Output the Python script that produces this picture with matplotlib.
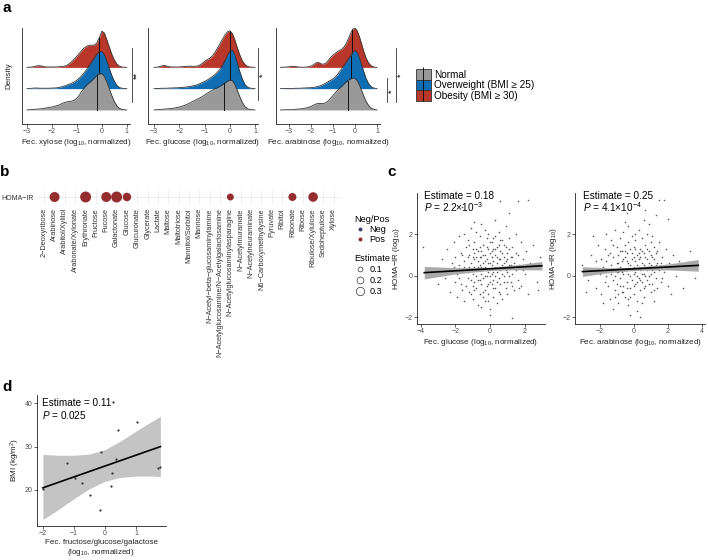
import numpy as np
import matplotlib.pyplot as plt
from matplotlib.patches import Patch
from matplotlib.lines import Line2D
from matplotlib.legend_handler import HandlerTuple

plt.rcParams['font.family'] = ['Liberation Sans', 'DejaVu Sans']
plt.rcParams['mathtext.fontset'] = 'custom'
plt.rcParams['mathtext.rm'] = 'Liberation Sans'
plt.rcParams['mathtext.it'] = 'Liberation Sans:italic'
plt.rcParams['mathtext.bf'] = 'Liberation Sans:bold'

# ---------------- data ----------------
groups = ['Normal', 'Overweight (BMI ≥ 25)', 'Obesity (BMI ≥ 30)']
group_colors = ['#999999', '#0F6DB3', '#B8362A']

# density grids (log10 normalized) and ridge heights
grid_a = np.linspace(-3.0, 1.0, 41)
grid_b = np.linspace(-3.4, 1.0, 45)

xyl_normal = [0.00, 0.01, 0.02, 0.03, 0.04, 0.05, 0.06, 0.08, 0.10, 0.12, 0.14, 0.17, 0.20, 0.24,
              0.30, 0.35, 0.38, 0.40, 0.42, 0.46, 0.55, 0.70, 0.88, 1.05, 1.18, 1.28, 1.38, 1.50,
              1.62, 1.70, 1.70, 1.58, 1.32, 1.00, 0.68, 0.40, 0.20, 0.08, 0.03, 0.01, 0.00]
xyl_over = [0.00, 0.01, 0.02, 0.03, 0.03, 0.02, 0.02, 0.02, 0.02, 0.02, 0.03, 0.03, 0.04, 0.06,
            0.09, 0.13, 0.17, 0.21, 0.26, 0.32, 0.40, 0.50, 0.62, 0.76, 0.92, 1.10, 1.28, 1.45,
            1.62, 1.74, 1.75, 1.60, 1.30, 0.95, 0.62, 0.35, 0.16, 0.06, 0.02, 0.01, 0.00]
xyl_obese = [0.00, 0.01, 0.02, 0.04, 0.07, 0.08, 0.06, 0.03, 0.02, 0.02, 0.02, 0.02, 0.02, 0.03,
             0.04, 0.06, 0.10, 0.18, 0.28, 0.40, 0.52, 0.66, 0.80, 0.92, 1.00, 1.04, 1.04, 1.05,
             1.15, 1.40, 1.70, 1.62, 1.30, 0.95, 0.62, 0.35, 0.16, 0.06, 0.02, 0.01, 0.00]

glc_normal = [0.00, 0.01, 0.02, 0.03, 0.04, 0.05, 0.06, 0.07, 0.09, 0.11, 0.14, 0.17, 0.21, 0.26,
              0.32, 0.38, 0.44, 0.50, 0.56, 0.62, 0.70, 0.78, 0.85, 0.92, 0.98, 1.04, 1.10, 1.18,
              1.26, 1.34, 1.40, 1.38, 1.20, 0.92, 0.62, 0.35, 0.16, 0.06, 0.02, 0.01, 0.00]
glc_over = [0.00, 0.01, 0.01, 0.02, 0.02, 0.02, 0.03, 0.03, 0.04, 0.04, 0.05, 0.06, 0.07, 0.08,
            0.10, 0.12, 0.15, 0.18, 0.23, 0.28, 0.34, 0.40, 0.48, 0.56, 0.65, 0.76, 0.90, 1.08,
            1.30, 1.55, 1.76, 1.82, 1.60, 1.20, 0.80, 0.45, 0.20, 0.08, 0.03, 0.01, 0.00]
glc_obese = [0.00, 0.01, 0.03, 0.07, 0.10, 0.06, 0.03, 0.02, 0.02, 0.02, 0.02, 0.03, 0.04, 0.05,
             0.06, 0.05, 0.05, 0.06, 0.10, 0.18, 0.28, 0.36, 0.42, 0.52, 0.68, 0.88, 1.08, 1.30,
             1.50, 1.66, 1.72, 1.60, 1.30, 0.92, 0.58, 0.30, 0.14, 0.05, 0.02, 0.01, 0.00]

ara_normal = [0.00, 0.00, 0.01, 0.01, 0.01, 0.01, 0.02, 0.03, 0.04, 0.05, 0.06, 0.08, 0.10, 0.13,
              0.17, 0.22, 0.27, 0.30, 0.31, 0.30, 0.31, 0.36, 0.45, 0.56, 0.68, 0.80, 0.92, 1.02,
              1.12, 1.22, 1.32, 1.40, 1.46, 1.50, 1.48, 1.38, 1.18, 0.92, 0.65, 0.42, 0.24, 0.12,
              0.05, 0.02, 0.00]
ara_over = [0.00, 0.00, 0.01, 0.01, 0.01, 0.01, 0.01, 0.02, 0.02, 0.02, 0.03, 0.03, 0.04, 0.04,
            0.05, 0.06, 0.08, 0.10, 0.13, 0.17, 0.22, 0.28, 0.34, 0.40, 0.46, 0.55, 0.66, 0.80,
            0.95, 1.10, 1.25, 1.40, 1.55, 1.72, 1.80, 1.70, 1.45, 1.12, 0.80, 0.50, 0.28, 0.13,
            0.05, 0.02, 0.00]
ara_obese = [0.00, 0.01, 0.01, 0.02, 0.03, 0.05, 0.05, 0.04, 0.02, 0.01, 0.01, 0.01, 0.02, 0.03,
             0.06, 0.12, 0.20, 0.24, 0.20, 0.15, 0.16, 0.22, 0.35, 0.48, 0.58, 0.66, 0.74, 0.80,
             0.86, 0.96, 1.12, 1.35, 1.60, 1.80, 1.85, 1.72, 1.45, 1.10, 0.75, 0.45, 0.24, 0.11,
             0.04, 0.01, 0.00]

xyl_medians = [-0.18, -0.10, -0.10]
glc_medians = [-0.22, 0.00, 0.00]
ara_medians = [-0.33, -0.20, -0.12]

# panel b
metabolites = ['2−Deoxyribose', 'Arabinose', 'Arabitol/Xylitol', 'Arabonate/Xylonate', 'Erythronate',
               'Fructose', 'Fucose', 'Galactonate', 'Glucose', 'Glucuronate', 'Glycerate', 'Lactate',
               'Maltose', 'Maltotriose', 'Mannitol/Sorbitol', 'Mannose',
               'N−Acetyl−beta−glucosaminylamine', 'N−Acetylglucosamine/N−Acetylgalactosamine',
               'N−Acetylglucosaminylasparagine', 'N−Acetylmuramate', 'N−Acetylneuraminate',
               'N6−Carboxymethyllysine', 'Pyruvate', 'Ribitol', 'Ribonate', 'Ribose',
               'Ribulose/Xylulose', 'Sedoheptulose', 'Xylose']
sig_metabolites = ['Arabinose', 'Erythronate', 'Fucose', 'Galactonate', 'Glucose',
                   'N−Acetylglucosaminylasparagine', 'Ribonate', 'Ribulose/Xylulose']
sig_estimates = [0.25, 0.30, 0.25, 0.30, 0.18, 0.12, 0.16, 0.23]

# panel c scatter points (fecal sugar, HOMA-IR)
glc_pts = [(-3.9, 1.4), (-3.3, 0.3), (-3.0, -0.4), (-2.8, 0.8), (-2.6, -0.1), (-2.5, 1.3), (-2.4, 0.2),
           (-2.3, -0.8), (-2.2, 0.6), (-2.1, 1.6), (-2.0, -0.3), (-2.0, 0.9), (-1.9, 0.1), (-1.9, -1.0),
           (-1.8, 1.9), (-1.8, 0.5), (-1.7, -0.4), (-1.7, 1.1), (-1.6, -0.7), (-1.6, 0.2), (-1.5, 2.0),
           (-1.5, 0.7), (-1.5, -1.2), (-1.4, 1.4), (-1.4, 0.3), (-1.4, -0.5), (-1.3, 0.9), (-1.3, -0.1),
           (-1.3, 1.7), (-1.2, 0.4), (-1.2, -0.8), (-1.2, 1.0), (-1.1, -0.2), (-1.1, 2.3), (-1.1, 0.6),
           (-1.0, -0.5), (-1.0, 1.3), (-1.0, 0.1), (-1.0, -1.1), (-0.9, 0.8), (-0.9, 1.6), (-0.9, -0.3),
           (-0.9, 0.4), (-0.8, 2.1), (-0.8, 0.9), (-0.8, -0.6), (-0.8, 0.3), (-0.7, 1.2), (-0.7, -1.4),
           (-0.7, 0.7), (-0.7, -0.2), (-0.6, 1.9), (-0.6, 0.5), (-0.6, -0.9), (-0.6, 1.4), (-0.5, 0.1),
           (-0.5, 2.5), (-0.5, -0.4), (-0.5, 0.9), (-0.5, -1.5), (-0.4, 0.6), (-0.4, 1.5), (-0.4, -0.1),
           (-0.4, 0.3), (-0.3, 2.2), (-0.3, -0.7), (-0.3, 1.0), (-0.3, 0.4), (-0.3, -1.2), (-0.2, 1.8),
           (-0.2, 0.0), (-0.2, 0.8), (-0.2, -0.5), (-0.1, 1.3), (-0.1, 0.2), (-0.1, -0.9), (-0.1, 2.0),
           (0.0, 0.6), (0.0, -0.3), (0.0, 1.1), (0.0, 0.3), (0.0, -1.6), (0.1, 1.6), (0.1, -0.4),
           (0.1, 0.9), (0.1, 0.1), (0.2, 1.3), (0.2, -0.2), (0.2, 0.7), (0.2, -1.0), (0.3, 0.4),
           (0.3, 1.9), (0.3, -0.6), (0.3, 1.0), (0.4, 0.2), (0.4, -1.3), (0.4, 1.4), (0.4, 0.6),
           (0.5, -0.1), (0.5, 2.1), (0.5, 0.8), (0.5, -0.8), (0.6, 0.3), (0.6, 1.2), (0.6, -0.4),
           (0.7, 1.7), (0.7, 0.5), (0.7, -1.1), (0.8, 0.9), (0.8, 0.0), (0.8, 1.5), (0.9, -0.6),
           (0.9, 0.7), (0.9, 2.4), (1.0, 0.2), (1.0, 1.1), (1.0, -0.9), (1.1, 0.5), (1.1, 1.8),
           (1.2, -0.3), (1.2, 0.9), (1.3, 0.1), (1.3, 1.4), (1.4, -0.7), (1.4, 0.6), (1.5, 2.0),
           (1.5, 0.3), (1.6, -0.2), (1.6, 1.0), (1.7, 0.5), (1.8, 1.6), (1.8, -0.5), (1.9, 0.8),
           (2.0, 0.1), (2.1, 1.2), (2.2, -0.9), (2.3, 0.6), (2.5, 1.5), (2.7, -0.3), (2.9, 0.9),
           (0.6, 3.6), (1.6, 3.6), (1.1, 3.0), (2.2, 3.65), (1.3, -2.05), (-1.6, 3.3), (0.3, 2.7),
           (-0.9, 2.6), (0.0, -1.9), (2.8, -0.7),
           (-1.3, 0.2), (-1.2, 1.5), (-1.1, -0.9), (-1.0, 0.9), (-0.9, -0.7), (-0.8, 1.3), (-0.8, 0.0),
           (-0.7, 0.4), (-0.6, -0.2), (-0.6, 0.9), (-0.5, 0.4), (-0.5, 1.2), (-0.4, -0.8), (-0.4, 1.0),
           (-0.3, 0.0), (-0.3, 0.7), (-0.2, 1.4), (-0.2, 0.3), (-0.1, -0.4), (-0.1, 0.6), (0.0, 1.6),
           (0.0, 0.0), (0.1, 0.5), (0.1, 1.2), (0.2, -0.6), (0.2, 0.2), (0.3, 1.3), (0.3, 0.0),
           (0.4, 0.9), (0.4, -0.3), (0.5, 0.4), (0.5, 1.5), (0.6, 0.8), (0.6, -0.9), (0.7, 0.1),
           (0.7, 1.1), (0.8, -0.3), (0.8, 0.6), (0.9, 1.4), (0.9, 0.3), (1.0, 0.8), (1.0, -0.3),
           (1.1, 1.3), (1.1, 0.0), (1.2, 0.5), (1.3, -0.5), (1.3, 0.9), (1.5, 1.1), (1.6, 0.4),
           (1.7, -0.6), (-1.5, 0.4), (-1.6, 1.0), (-1.8, -0.1), (-2.1, 0.4), (-0.9, 1.1), (-0.4, -1.0),
           (0.2, 1.8), (0.6, 1.7), (-0.1, -1.2), (1.9, 0.3)]
ara_pts = [(-3.0, 0.5), (-2.7, -0.2), (-2.5, 1.0), (-2.3, 0.3), (-2.2, -0.6), (-2.1, 1.5), (-2.0, 0.1),
           (-1.9, 0.8), (-1.9, -0.9), (-1.8, 0.4), (-1.7, 1.3), (-1.7, -0.3), (-1.6, 0.7), (-1.6, 2.0),
           (-1.5, -0.5), (-1.5, 0.2), (-1.4, 1.1), (-1.4, -1.1), (-1.3, 0.5), (-1.3, 1.7), (-1.2, -0.2),
           (-1.2, 0.9), (-1.1, 0.0), (-1.1, 2.2), (-1.1, -0.7), (-1.0, 0.6), (-1.0, 1.4), (-1.0, -0.4),
           (-0.9, 0.2), (-0.9, 1.0), (-0.9, -1.3), (-0.8, 1.8), (-0.8, 0.4), (-0.8, -0.1), (-0.7, 1.2),
           (-0.7, -0.8), (-0.7, 0.7), (-0.6, 2.1), (-0.6, 0.1), (-0.6, -0.5), (-0.5, 0.9), (-0.5, 1.5),
           (-0.5, -1.0), (-0.4, 0.3), (-0.4, 1.1), (-0.4, -0.3), (-0.3, 2.4), (-0.3, 0.6), (-0.3, -1.4),
           (-0.2, 1.3), (-0.2, 0.0), (-0.2, -0.6), (-0.1, 0.8), (-0.1, 1.9), (-0.1, -0.2), (0.0, 0.4),
           (0.0, 1.4), (0.0, -0.9), (0.0, 0.9), (0.1, -0.4), (0.1, 1.7), (0.1, 0.2), (0.2, 1.0),
           (0.2, -1.2), (0.2, 0.5), (0.3, 2.2), (0.3, -0.1), (0.3, 0.8), (0.4, 1.3), (0.4, -0.7),
           (0.4, 0.3), (0.5, 1.8), (0.5, -0.3), (0.5, 0.6), (0.6, 1.1), (0.6, -1.0), (0.6, 0.1),
           (0.7, 1.5), (0.7, 0.4), (0.7, -0.5), (0.8, 2.0), (0.8, 0.8), (0.8, -0.2), (0.9, 1.2),
           (0.9, 0.0), (1.0, -0.8), (1.0, 1.6), (1.0, 0.5), (1.1, 0.9), (1.1, -0.4), (1.2, 1.4),
           (1.2, 0.2), (1.3, -0.1), (1.3, 1.1), (1.4, 0.6), (1.4, -0.6), (1.5, 1.6), (1.5, 0.3),
           (1.6, -0.3), (1.7, 0.9), (1.8, 0.2), (1.9, 1.3), (2.0, -0.5), (2.1, 0.6), (2.3, 1.0),
           (2.5, 0.0), (2.7, 0.7), (3.0, 0.4), (3.3, 1.2), (3.6, -0.1), (-2.4, 1.9), (-1.2, -1.6),
           (0.2, -1.7), (0.9, 2.5), (-0.5, 2.6), (1.2, -1.2), (-0.2, -1.9), (-1.8, -1.3), (2.2, -0.9),
           (0.6, 2.7), (0.4, -1.97), (1.5, 3.63), (1.8, 3.63), (2.0, 2.72), (2.9, -0.6), (0.7, 3.15),
           (1.3, 2.9), (-0.4, 3.0), (-2.8, -0.8), (3.4, 0.5),
           (-1.3, 0.1), (-1.2, 1.5), (-1.1, -1.0), (-1.0, 0.2), (-0.9, 0.6), (-0.8, 1.2), (-0.8, -0.5),
           (-0.7, 0.2), (-0.6, 0.8), (-0.6, -0.8), (-0.5, 0.3), (-0.5, 1.2), (-0.4, -0.6), (-0.4, 0.7),
           (-0.3, 0.1), (-0.3, 1.6), (-0.2, 0.5), (-0.2, -1.0), (-0.1, 0.3), (-0.1, 1.1), (0.0, 0.1),
           (0.0, -0.5), (0.1, 0.7), (0.1, 1.3), (0.2, -0.3), (0.2, 0.0), (0.3, 1.1), (0.3, 0.4),
           (0.4, -0.2), (0.4, 0.9), (0.5, 0.1), (0.5, 1.2), (0.6, 0.5), (0.6, -0.6), (0.7, 0.9),
           (0.7, 0.0), (0.8, 1.3), (0.8, 0.3), (0.9, -0.4), (0.9, 0.6), (1.0, 0.1), (1.0, 1.0),
           (1.1, 0.3), (1.2, -0.7), (1.2, 0.8), (1.3, 0.5), (1.4, 1.2), (1.6, 0.6), (1.7, -0.1),
           (1.9, 0.5), (-1.5, 1.0), (-1.6, 0.0), (-1.9, 0.3), (-2.2, 0.7), (-0.9, -0.9), (-0.3, -1.1),
           (0.1, 2.0), (0.5, -1.3), (1.1, 1.9), (2.4, 0.4)]

glc_fit_x = [-3.8, 3.0]
glc_fit_y = [0.15, 0.48]
glc_band_x = [-3.8, -2.0, 0.0, 1.5, 3.0]
glc_band_hw = [0.30, 0.15, 0.08, 0.12, 0.20]

ara_fit_x = [-3.0, 3.8]
ara_fit_y = [0.20, 0.50]
ara_band_x = [-3.0, -1.5, 0.0, 2.0, 3.8]
ara_band_hw = [0.23, 0.12, 0.08, 0.14, 0.28]

# panel d
d_x = [-2.0, -1.23, -0.96, -0.75, -0.5, -0.16, -0.13, 0.21, 0.19, 0.35, 0.40, 1.03, 1.71, 1.78, 0.27]
d_y = [20.2, 26.3, 22.8, 21.6, 18.8, 15.4, 28.7, 23.8, 21.0, 27.2, 33.8, 35.6, 25.1, 25.2, 40.2]
d_fit_x = [-2.0, 1.78]
d_fit_y = [20.5, 30.0]
d_band_x = [-2.0, -1.5, -1.0, -0.5, 0.0, 0.5, 1.0, 1.5, 1.78]
d_band_lo = [13.2, 15.5, 18.0, 20.3, 22.0, 22.9, 23.2, 23.2, 23.1]
d_band_hi = [28.2, 28.0, 28.0, 28.3, 29.3, 31.3, 33.6, 35.8, 37.0]

# ---------------- figure ----------------
W, H = 708, 560
fig = plt.figure(figsize=(W / 100, H / 100), dpi=100)
LAB = 5.8


def px_axes(l, t, r, b):
    return fig.add_axes([l / W, 1 - b / H, (r - l) / W, (b - t) / H])


def classic(ax, fs=5.0):
    for s in ['top', 'right']:
        ax.spines[s].set_visible(False)
    for s in ['left', 'bottom']:
        ax.spines[s].set_linewidth(0.6)
        ax.spines[s].set_color('#222222')
    ax.tick_params(length=2, width=0.5, labelsize=fs, pad=1, colors='#222222',
                   labelcolor='#4D4D4D')


fig.text(7 / W, 1 - 8 / H, 'a', fontsize=11, fontweight='bold', va='center', ha='center')
fig.text(5 / W, 1 - 172 / H, 'b', fontsize=11, fontweight='bold', va='center', ha='center')
fig.text(392 / W, 1 - 172 / H, 'c', fontsize=11, fontweight='bold', va='center', ha='center')
fig.text(7 / W, 1 - 387 / H, 'd', fontsize=11, fontweight='bold', va='center', ha='center')

# panel a: ridgelines
ridge_panels = [
    ((22, 28, 130, 124), (-3.2, 1.13), grid_a, [xyl_normal, xyl_over, xyl_obese], xyl_medians,
     'Fec. xylose (log$_{10}$, normalized)'),
    ((148, 28, 258, 124), (-3.24, 1.12), grid_a, [glc_normal, glc_over, glc_obese], glc_medians,
     'Fec. glucose (log$_{10}$, normalized)'),
    ((276, 28, 380, 124), (-3.6, 1.14), grid_b, [ara_normal, ara_over, ara_obese], ara_medians,
     'Fec. arabinose (log$_{10}$, normalized)'),
]
ridge_axes = []
for box, xl, grid, dens, meds, lab in ridge_panels:
    ax = px_axes(*box)
    classic(ax)
    # draw top ridge first so the lower ridges cover it
    for i in [2, 1, 0]:
        d = np.array(dens[i])
        ax.fill_between(grid, i, i + d, color=group_colors[i], lw=0, zorder=2 + (2 - i) * 2)
        ax.plot(grid, i + d, color='#333333', lw=0.6, zorder=3 + (2 - i) * 2)
        h = np.interp(meds[i], grid, d)
        ax.plot([meds[i], meds[i]], [i, i + h], color='#111111', lw=0.7, zorder=3 + (2 - i) * 2)
    ax.set_xlim(*xl)
    ax.set_ylim(-0.66, 3.85)
    ax.set_yticks([])
    ax.set_xticks([-3, -2, -1, 0, 1])
    ax.set_xlabel(lab, fontsize=LAB, labelpad=1.5, color='#222222')
    ridge_axes.append(ax)

ridge_axes[0].set_ylabel('Density', fontsize=LAB, color='#222222')
ridge_axes[0].yaxis.set_label_coords(-0.09, 0.5)

# significance brackets
sig_kw = dict(color='#333333', lw=0.6, clip_on=False)
star_kw = dict(rotation=90, fontsize=6.5, ha='center', va='center')
ridge_axes[0].plot([1.22, 1.22], [0.37, 2.9], **sig_kw)
ridge_axes[0].text(1.42, 1.64, '**', **star_kw)
ridge_axes[1].plot([1.12, 1.12], [0.47, 2.9], **sig_kw)
ridge_axes[1].text(1.32, 1.64, '*', **star_kw)
ridge_axes[2].plot([1.48, 1.48], [0.37, 1.5], **sig_kw)
ridge_axes[2].text(1.67, 0.9, '*', **star_kw)
ridge_axes[2].plot([1.89, 1.89], [0.37, 2.9], **sig_kw)
ridge_axes[2].text(2.08, 1.64, '*', **star_kw)

handles = [(Patch(facecolor=c, edgecolor='#333333', lw=0.6),
            Line2D([], [], color='#111111', marker='|', ls='None', markersize=8.6, mew=0.7))
           for c in group_colors]
fig.legend(handles, groups, loc='upper left', bbox_to_anchor=(411 / W, 1 - 64 / H),
           frameon=False, fontsize=7.2, handler_map={tuple: HandlerTuple(ndivide=1)},
           handlelength=1.45, handleheight=1.25, labelspacing=0.0, handletextpad=0.35, borderpad=0)

# panel b: dot plot
axb = px_axes(37, 190, 341, 204)
pos = [metabolites.index(m) for m in sig_metabolites]
axb.scatter(pos, [1] * len(pos), s=np.array(sig_estimates) * 207, color='#952D2F', zorder=3, lw=0)
axb.set_xlim(-0.7, 28.7)
axb.set_ylim(0.4, 1.6)
axb.set_xticks(range(len(metabolites)))
axb.set_xticklabels(metabolites, rotation=90, fontsize=5.3, color='#333333')
axb.set_yticks([1])
axb.set_yticklabels(['HOMA−IR'], fontsize=5.0, color='#333333')
axb.tick_params(length=0, pad=3)
axb.tick_params(axis='y', pad=2)
for s in axb.spines.values():
    s.set_visible(False)
for i in range(len(metabolites)):
    axb.axvline(i, color='#EBEBEB', lw=0.6, zorder=0)
axb.axhline(1, color='#EBEBEB', lw=0.6, zorder=0)

np_handles = [Line2D([], [], marker='o', ls='None', color='#3A3F6B', markersize=1.8),
              Line2D([], [], marker='o', ls='None', color='#8E2C2C', markersize=1.8)]
fig.legend(np_handles, ['Neg', 'Pos'], title='Neg/Pos', loc='upper left',
           bbox_to_anchor=(350 / W, 1 - 210 / H), frameon=False, fontsize=6.6,
           title_fontsize=6.6, handlelength=1.2, handletextpad=0.4, labelspacing=0.15,
           borderpad=0, alignment='left')
est_levels = [0.1, 0.2, 0.3]
est_handles = [Line2D([], [], marker='o', ls='None', markerfacecolor='white',
                      markeredgecolor='#333333', mew=0.5, markersize=11 * np.sqrt(e))
               for e in est_levels]
fig.legend(est_handles, ['0.1', '0.2', '0.3'], title='Estimate', loc='upper left',
           bbox_to_anchor=(350 / W, 1 - 249 / H), frameon=False, fontsize=6.6,
           title_fontsize=6.6, handlelength=1.2, handletextpad=0.4, labelspacing=0.25,
           borderpad=0, alignment='left')

# panel c: scatter with fits
scatter_panels = [
    ((417, 193, 545, 324), (-4.22, 3.18), glc_pts, glc_fit_x, glc_fit_y, glc_band_x, glc_band_hw,
     [-4, -2, 0, 2], 'Fec. glucose (log$_{10}$, normalized)', 'Estimate = 0.18',
     '$P$ = 2.2×10$^{-3}$', 0.055),
    ((575, 193, 705, 324), (-3.44, 4.2), ara_pts, ara_fit_x, ara_fit_y, ara_band_x, ara_band_hw,
     [-2, 0, 2, 4], 'Fec. arabinose (log$_{10}$, normalized)', 'Estimate = 0.25',
     '$P$ = 4.1×10$^{-4}$', 0.064),
]
for box, xl, pts, fx, fy, bx, bhw, xt, xlab, est, ptxt, tx in scatter_panels:
    ax = px_axes(*box)
    classic(ax)
    pts = np.array(pts)
    ax.scatter(pts[:, 0], pts[:, 1], s=1.3, color='#555555', lw=0, zorder=2)
    bx = np.array(bx)
    centre = np.interp(bx, fx, fy)
    ax.fill_between(bx, centre - np.array(bhw), centre + np.array(bhw), color='#A9A9A9',
                    lw=0, zorder=3)
    ax.plot(fx, fy, color='black', lw=1.2, zorder=4)
    ax.set_xlim(*xl)
    ax.set_ylim(-2.32, 3.98)
    ax.set_xticks(xt)
    ax.set_yticks([-2, 0, 2])
    ax.set_xlabel(xlab, fontsize=LAB, labelpad=1.5, color='#222222')
    ax.set_ylabel('HOMA−IR (log$_{10}$)', fontsize=LAB, color='#222222')
    ax.yaxis.set_label_coords(-0.12, 0.5)
    ax.text(tx, 0.975, est, transform=ax.transAxes, fontsize=7.2, va='center', ha='left')
    ax.text(tx, 0.89, ptxt, transform=ax.transAxes, fontsize=7.2, va='center', ha='left')

# panel d
axd = px_axes(36.7, 395, 165.7, 525.7)
classic(axd)
axd.fill_between(d_band_x, d_band_lo, d_band_hi, color='#C4C4C4', lw=0, zorder=1)
axd.scatter(d_x, d_y, s=2.5, color='#333333', lw=0, zorder=2)
axd.plot(d_fit_x, d_fit_y, color='black', lw=1.2, zorder=3)
axd.set_xlim(-2.2, 1.95)
axd.set_ylim(11.76, 41.9)
axd.set_xticks([-2, -1, 0, 1])
axd.set_yticks([20, 30, 40])
axd.set_xlabel('Fec. fructose/glucose/galactose\n(log$_{10}$, normalized)', fontsize=LAB,
               labelpad=1.5, color='#222222', linespacing=1.15)
axd.set_ylabel('BMI (kg/m$^2$)', fontsize=LAB, color='#222222')
axd.yaxis.set_label_coords(-0.116, 0.5)
axd.text(0.039, 0.94, 'Estimate = 0.11', transform=axd.transAxes, fontsize=7.2, va='center')
axd.text(0.039, 0.85, '$P$ = 0.025', transform=axd.transAxes, fontsize=7.2, va='center')

fig.savefig('out.png', dpi=100)
